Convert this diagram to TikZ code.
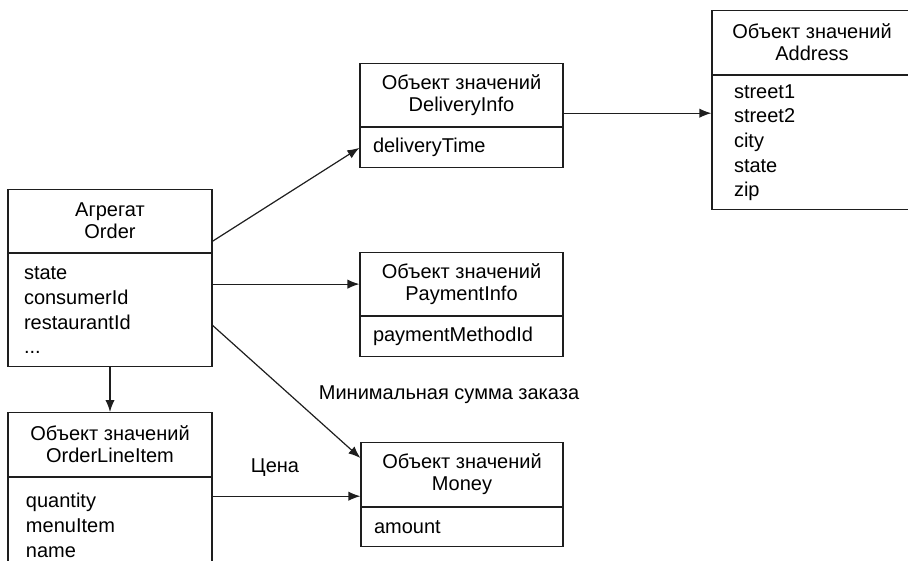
\documentclass[tikz,border=0pt]{standalone}
\usepackage{fontspec}
\setmainfont{Liberation Sans}
\usetikzlibrary{arrows.meta, positioning, calc}
\definecolor{inkgray}{RGB}{30, 30, 30}

\begin{document}
\begin{tikzpicture}[
  x=0.75pt, y=-0.75pt,
  hbox/.style={draw=inkgray, line width=0.9pt, anchor=north, align=center, inner sep=2pt, font=\fontsize{15}{16.5}\selectfont},
  bbox/.style={draw=inkgray, line width=0.9pt, anchor=north, align=left, inner xsep=9.75pt, inner ysep=2pt, font=\fontsize{15}{18.5}\selectfont},
  link/.style={draw=inkgray, line width=0.9pt, -{Latex[length=9pt, width=7pt]}},
  lbl/.style={font=\fontsize{15}{18}\selectfont, inner sep=0pt}
]
  \useasboundingbox (0,0) rectangle (908,561);

  \node[hbox, minimum width=153pt, minimum height=47.25pt] (ordhead) at (110,189) {Агрегат\\Order};
  \node[bbox, text width=129pt, inner xsep=12pt, minimum height=84.75pt] (ordbody) at (ordhead.south) {
    state\\
    consumerId\\
    restaurantId\\
    ...
  };

  \node[hbox, minimum width=153pt, minimum height=48pt] (olihead) at (110,412) {Объект значений\\OrderLineItem};
  \node[bbox, text width=126pt, inner xsep=13.5pt, minimum height=71.25pt] (olibody) at (olihead.south) {
    quantity\\
    menuItem\\
    name
  };

  \node[hbox, minimum width=152.25pt, minimum height=47.25pt] (dlvhead) at (461.5,63) {Объект значений\\DeliveryInfo};
  \node[bbox, text width=132.75pt, minimum height=30pt] (dlvbody) at (dlvhead.south) {deliveryTime};

  \node[hbox, minimum width=152.25pt, minimum height=47.25pt] (payhead) at (461.5,252) {Объект значений\\PaymentInfo};
  \node[bbox, text width=132.75pt, minimum height=30pt] (paybody) at (payhead.south) {paymentMethodId};

  \node[hbox, minimum width=151.5pt, minimum height=48pt] (monhead) at (462,442) {Объект значений\\Money};
  \node[bbox, text width=132pt, minimum height=29.25pt] (monbody) at (monhead.south) {amount};

  \node[hbox, minimum width=150pt, minimum height=48pt] (adrhead) at (812,10) {Объект значений\\Address};
  \node[bbox, text width=117pt, inner xsep=16.5pt, minimum height=100.5pt] (adrbody) at (adrhead.south) {
    street1\\
    street2\\
    city\\
    state\\
    zip
  };

  \node[lbl] (minlbl) at (449,395) {Минимальная сумма заказа};
  \node[lbl] (pricelbl) at (275,468) {Цена};

  \coordinate (dlvout) at ($(dlvhead.south east)+(0,-14)$);
  \coordinate (pricein) at ($(monhead.south west)+(0,-11)$);

  \draw[link] ($(ordhead.south east)+(0,-12)$) -- (dlvbody.west);
  \draw[link] (ordbody.east |- payhead.west) -- (payhead.west);
  \draw[link] ($(ordbody.south east)+(0,-42)$) -- ($(monhead.north west)+(0,16)$);
  \draw[link] (ordbody.south) -- (olihead.north);
  \draw[link] (olibody.east |- pricein) -- (pricein);
  \draw[link] (dlvout) -- (adrbody.west |- dlvout);
\end{tikzpicture}
\end{document}
